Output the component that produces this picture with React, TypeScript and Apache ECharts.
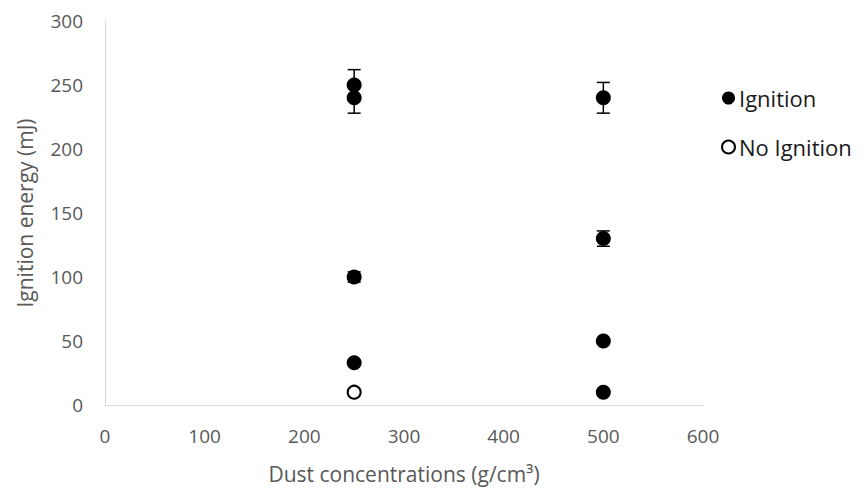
import React, { useEffect, useRef } from "react";
import * as echarts from "echarts";

const ignitionX = [250, 250, 250, 250, 500, 500, 500, 500];
const ignitionY = [250, 240, 100, 33, 240, 130, 50, 10];
const noIgnitionX = [250];
const noIgnitionY = [10];
const errX = [250, 250, 250, 500, 500];
const errY = [250, 240, 100, 240, 130];
const errVal = [12, 12, 4, 12, 6];
const xTicks = [0, 600, 100];
const yTicks = [0, 300, 50];

const FONT = "'Open Sans', sans-serif";
const GRAY = "#595959";

export default function App() {
  const ref = useRef<HTMLDivElement>(null);
  useEffect(() => {
    const chart = echarts.init(ref.current!, null, { renderer: "svg" });
    chart.setOption({
      animation: false,
      textStyle: { fontFamily: FONT },
      grid: { left: 105, right: 162, top: 21, bottom: 88 },
      legend: {
        orient: "vertical",
        left: 716,
        top: 82,
        itemGap: 27,
        itemWidth: 13,
        itemHeight: 13,
        icon: "circle",
        data: ["Ignition", "No Ignition"],
        textStyle: { fontFamily: FONT, fontSize: 22, color: "#1a1a1a", padding: [0, 0, 0, -1] },
      },
      xAxis: {
        type: "value",
        min: xTicks[0],
        max: xTicks[1],
        interval: xTicks[2],
        name: "Dust concentrations (g/cm³)",
        nameLocation: "middle",
        nameGap: 58,
        nameTextStyle: { fontFamily: FONT, fontSize: 21, color: GRAY },
        axisLine: { show: true, lineStyle: { color: "#d9d9d9", width: 1 } },
        axisTick: { show: false },
        splitLine: { show: false },
        axisLabel: { fontFamily: FONT, fontSize: 19, color: GRAY, margin: 21 },
      },
      yAxis: {
        type: "value",
        min: yTicks[0],
        max: yTicks[1],
        interval: yTicks[2],
        name: "Ignition energy (mJ)",
        nameLocation: "middle",
        nameGap: 70,
        nameTextStyle: { fontFamily: FONT, fontSize: 21, color: GRAY },
        axisLine: { show: true, lineStyle: { color: "#d9d9d9", width: 1 } },
        axisTick: { show: false },
        splitLine: { show: false },
        axisLabel: { fontFamily: FONT, fontSize: 19, color: GRAY, margin: 22 },
      },
      series: [
        {
          name: "errors",
          type: "custom",
          z: 1,
          silent: true,
          data: errX.map((x, i) => [x, errY[i], errVal[i]]),
          renderItem: (params: any, api: any) => {
            const x = api.value(0);
            const y = api.value(1);
            const e = api.value(2);
            const top = api.coord([x, y + e]);
            const bot = api.coord([x, y - e]);
            const hw = 6.5;
            const style = { stroke: "#000", lineWidth: 1.5 };
            return {
              type: "group",
              children: [
                { type: "line", shape: { x1: top[0], y1: top[1], x2: bot[0], y2: bot[1] }, style },
                { type: "line", shape: { x1: top[0] - hw, y1: top[1], x2: top[0] + hw, y2: top[1] }, style },
                { type: "line", shape: { x1: bot[0] - hw, y1: bot[1], x2: bot[0] + hw, y2: bot[1] }, style },
              ],
            };
          },
        },
        {
          name: "Ignition",
          type: "scatter",
          z: 3,
          symbol: "circle",
          symbolSize: 15,
          itemStyle: { color: "#000", opacity: 1 },
          data: ignitionX.map((x, i) => [x, ignitionY[i]]),
        },
        {
          name: "No Ignition",
          type: "scatter",
          z: 3,
          symbol: "circle",
          symbolSize: 13,
          itemStyle: { color: "#fff", borderColor: "#000", borderWidth: 2, opacity: 1 },
          data: noIgnitionX.map((x, i) => [x, noIgnitionY[i]]),
        },
      ],
    });
    return () => chart.dispose();
  }, []);
  return <div ref={ref} style={{ width: 865, height: 493, position: "absolute", left: 0, top: 0, background: "#fff" }} />;
}
